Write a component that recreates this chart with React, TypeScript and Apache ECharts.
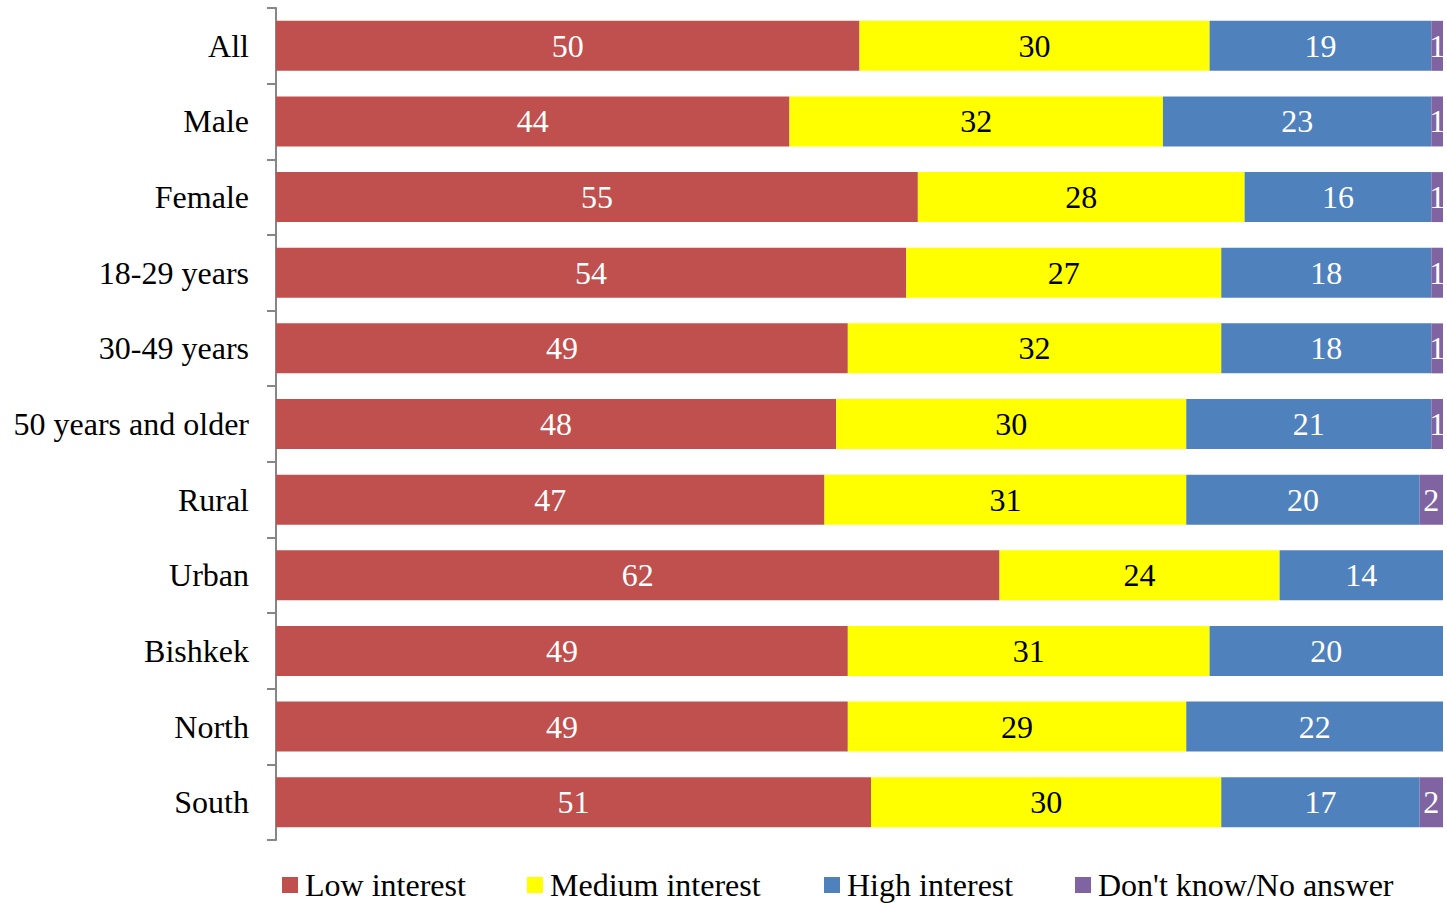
import React, { useEffect, useRef } from "react";
import * as echarts from "echarts";

const categories = ["All", "Male", "Female", "18-29 years", "30-49 years", "50 years and older", "Rural", "Urban", "Bishkek", "North", "South"];
const lowInterest = [50, 44, 55, 54, 49, 48, 47, 62, 49, 49, 51];
const mediumInterest = [30, 32, 28, 27, 32, 30, 31, 24, 31, 29, 30];
const highInterest = [19, 23, 16, 18, 18, 21, 20, 14, 20, 22, 17];
const dontKnow = [1, 1, 1, 1, 1, 1, 2, 0, 0, 0, 2];

const seriesNames = ["Low interest", "Medium interest", "High interest", "Don't know/No answer"];
const seriesData = [lowInterest, mediumInterest, highInterest, dontKnow];
const colors = ["#C0504D", "#FFFF00", "#4F81BD", "#8064A2"];
const labelColors = ["#ffffff", "#000000", "#ffffff", "#ffffff"];
const legendLeft = [282, 527, 824, 1075];

const FONT = "'Liberation Serif', 'Times New Roman', serif";
const FS = 32;

export default function App() {
  const ref = useRef<HTMLDivElement>(null);
  useEffect(() => {
    if (!ref.current) return;
    const chart = echarts.init(ref.current, null, { renderer: "svg" });
    chart.setOption({
      animation: false,
      textStyle: { fontFamily: FONT },
      grid: { left: 276, right: 4, top: 8, bottom: 63, containLabel: false },
      xAxis: {
        type: "value",
        min: 0,
        max: 100,
        show: false,
      },
      yAxis: {
        type: "category",
        data: categories,
        inverse: true,
        axisLine: { show: true, lineStyle: { color: "#868686", width: 2 } },
        axisTick: { show: true, length: 9, lineStyle: { color: "#868686", width: 2 } },
        axisLabel: { color: "#000", fontSize: FS, fontFamily: FONT, margin: 27 },
        splitLine: { show: false },
      },
      legend: seriesNames.map((n, i) => ({
        data: [n],
        left: legendLeft[i],
        top: 869,
        itemWidth: 16,
        itemHeight: 16,
        itemGap: 0,
        icon: "rect",
        textStyle: { color: "#000", fontSize: FS, fontFamily: FONT, padding: [0, 0, 0, 2] },
        padding: 0,
      })),
      series: seriesNames.map((n, i) => ({
        name: n,
        type: "bar",
        stack: "total",
        barWidth: 50,
        data: seriesData[i],
        itemStyle: { color: colors[i] },
        label: {
          show: true,
          position: "inside",
          color: labelColors[i],
          fontSize: FS,
          fontFamily: FONT,
          formatter: (p: any) => (p.value ? String(p.value) : ""),
        },
      })),
    });
    return () => chart.dispose();
  }, []);
  return <div ref={ref} style={{ width: 1447, height: 903, position: "absolute", left: 0, top: 0 }} />;
}
